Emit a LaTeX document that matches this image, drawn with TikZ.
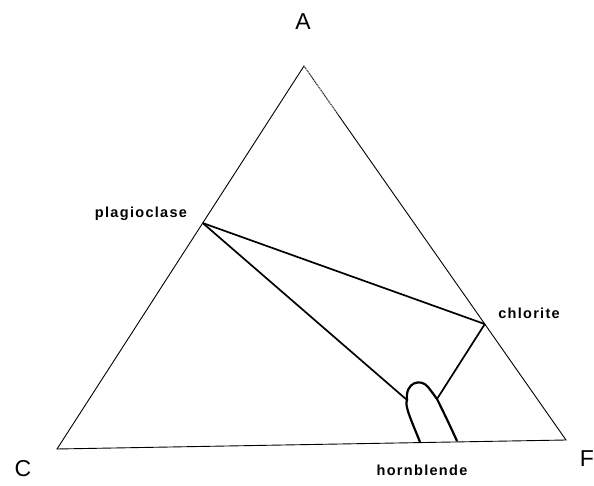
\documentclass[tikz,border=0pt]{standalone}
\usepackage{fontspec}
\setmainfont{Liberation Sans}
\newfontfamily\labfont[LetterSpace=9]{Liberation Sans}
\usetikzlibrary{
  calc,
  positioning
}

\begin{document}
\begin{tikzpicture}[x=1pt, y=-1pt]
  \tikzset{
    side/.style={line width=0.9pt},
    tie/.style={line width=1.7pt},
    blob/.style={line width=2.2pt, line join=round},
    corner/.style={font=\fontsize{23}{23}\selectfont, inner sep=0pt},
    mineral/.style={font=\labfont\bfseries\fontsize{14.5}{14.5}\selectfont, inner sep=0pt, anchor=base},
    % every node/.style={font=\large}
  }
  \useasboundingbox (0,0) rectangle (594,486);

  \coordinate (a) at (304,66);
  \coordinate (c) at (57,449);
  \coordinate (f) at (566,440);
  \coordinate (plag) at ($(a)!0.41!(c)$);
  \coordinate (chl) at ($(a)!0.69!(f)$);
  \coordinate (adot) at ($(a)!0.13!(f)$);

  % triangle
  \draw[side] (adot)--(a)--(c)--(f)--(chl);
  \draw[side] (chl)--(adot);
  \draw[side, densely dotted, white, line width=0.5pt] (a)--(adot);

  % hornblende field
  \coordinate (hbL) at (420,442);
  \coordinate (hbR) at (457,441);
  \coordinate (hbl) at (407,400);
  \coordinate (hbr) at (437,399);
  \draw[blob] (hbL) .. controls (412,422) and (404,405) .. (hbl)
    .. controls (405,382) and (421,378) .. (428,387)
    .. controls (432,392) and (434,395) .. (hbr)
    .. controls (445,415) and (452,430) .. (hbR);

  % tie lines
  \draw[tie] (plag)--(chl);
  \draw[tie] (plag)--(hbl);
  \draw[tie] (chl)--(hbr);

  \node[corner] (labA) at (303,22) {A};
  \node[corner] (labC) at (23,469) {C};
  \node[corner] (labF) at (587,459) {F};

  \node[mineral] (labplag) at (141,218) {plagioclase};
  \node[mineral] (labchl) at (529,318) {chlorite};
  \node[mineral] (labhb) at (422,475) {hornblende};
\end{tikzpicture}
\end{document}
